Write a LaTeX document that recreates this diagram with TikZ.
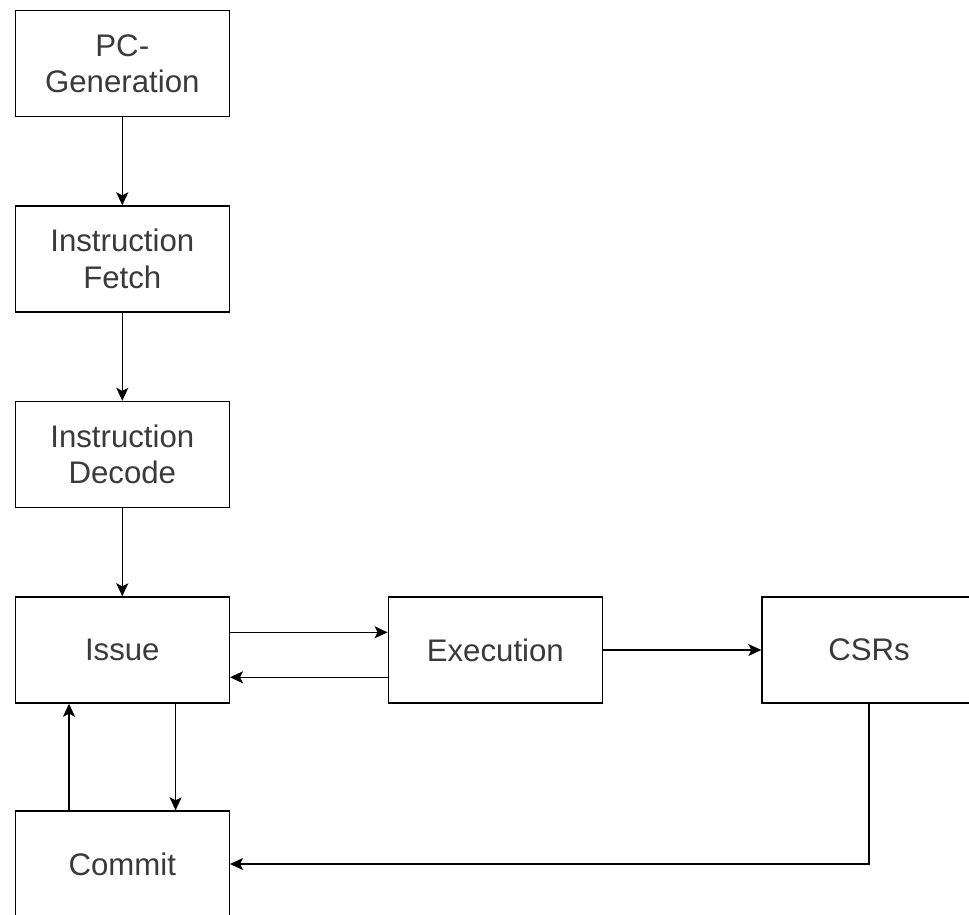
\documentclass[tikz,border=0pt]{standalone}
\usepackage{fontspec}
\setmainfont{Liberation Sans}
\usetikzlibrary{arrows.meta}
\definecolor{txt}{HTML}{3A3A3A}
\begin{document}
\begin{tikzpicture}[x=1pt,y=-1pt,
  stage/.style={draw=black,line width=1.4pt,minimum width=214pt,minimum height=106pt,inner sep=0pt,align=center,
    text=txt,font=\fontsize{31.2}{36.6}\selectfont},
  conn/.style={draw=black,line width=1.4pt,-{Stealth[length=13pt,width=12pt,inset=3pt]}}]
\fill[white] (0,0) rectangle (969,914);
\useasboundingbox (0,0) rectangle (969,914);
\clip (0,0) rectangle (969,914);
\node[stage] (pc) at (122.3,63.7) {PC-\\Generation};
\node[stage] (fetch) at (122.3,259) {Instruction\\Fetch};
\node[stage] (decode) at (122.3,454.5) {Instruction\\Decode};
\node[stage] (issue) at (122.3,650) {Issue};
\node[stage] (exec) at (495.3,650) {Execution};
\node[stage] (csr) at (869,650) {CSRs};
\node[stage] (commit) at (122.3,864) {Commit};
\draw[conn] (pc) -- (fetch);
\draw[conn] (fetch) -- (decode);
\draw[conn] (decode) -- (issue);
\draw[conn] ([yshift=17.7pt]issue.east) -- ([yshift=17.7pt]exec.west);
\draw[conn] ([yshift=-27.3pt]exec.west) -- ([yshift=-27.3pt]issue.east);
\draw[conn] (exec) -- (csr);
\draw[conn] ([xshift=-53.3pt]commit.north) -- ([xshift=-53.3pt]issue.south);
\draw[conn] ([xshift=53.3pt]issue.south) -- ([xshift=53.3pt]commit.north);
\draw[conn] (csr.south) |- (commit.east);
\end{tikzpicture}
\end{document}
